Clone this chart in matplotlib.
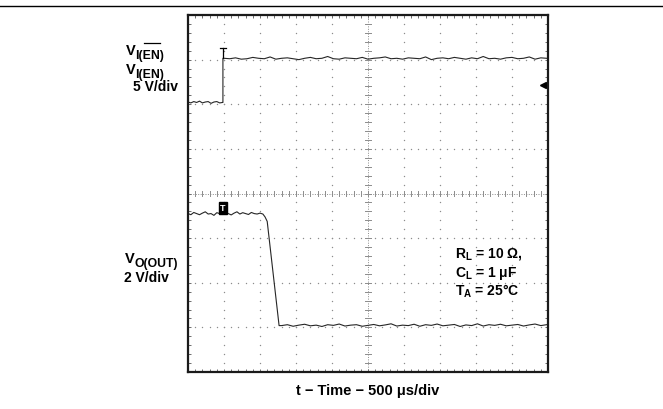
import matplotlib
matplotlib.use("Agg")
import matplotlib.pyplot as plt
import numpy as np
from matplotlib.lines import Line2D

plt.rcParams['font.family'] = ['Liberation Sans', 'DejaVu Sans']
plt.rcParams['font.weight'] = 'bold'
plt.rcParams['mathtext.fontset'] = 'custom'
plt.rcParams['mathtext.rm'] = 'Liberation Sans:bold'
plt.rcParams['mathtext.bf'] = 'Liberation Sans:bold'
plt.rcParams['mathtext.it'] = 'Liberation Sans:bold'

W, H = 663, 409

# scope settings
time_per_div = 500.0      # us/div
en_volts_per_div = 5.0    # V/div
out_volts_per_div = 2.0   # V/div
en_ground_div = 6.0       # screen division of 0 V for V_I(EN)
out_ground_div = 1.0      # screen division of 0 V for V_O(OUT)

# V_I(EN) trace, time in us from left edge of screen, values in V
en_low_t = np.arange(0, 481, 40)
en_low_v = [0.25, 0.15, 0.3, 0.2, 0.35, 0.15, 0.25, 0.3, 0.1, 0.25, 0.3, 0.15, 0.2]
en_step_t = [485, 485]
en_step_v = [0.2, 5.15]
en_high_t = np.arange(500, 5001, 80)
en_high_v = [5.15, 5.1, 5.2, 5.05, 5.1, 5.25, 5.15, 5.1, 5.3, 5.05,
             5.15, 5.2, 5.1, 5.0, 5.15, 5.25, 5.1, 5.15, 5.35, 5.1,
             5.05, 5.2, 5.15, 5.1, 5.25, 5.05, 5.15, 5.2, 5.3, 5.1,
             5.15, 5.05, 5.2, 5.15, 5.1, 5.3, 5.0, 5.15, 5.2, 5.1,
             5.25, 5.15, 5.05, 5.2, 5.1, 5.35, 5.1, 5.15, 5.05, 5.2,
             5.25, 5.1, 5.15, 5.3, 5.05, 5.2, 5.15]

# V_O(OUT) trace
out_high_t = np.arange(0, 1001, 40)
out_high_v = [5.1, 5.05, 5.15, 5.1, 5.05, 5.12, 5.18, 5.08, 5.1, 5.02, 5.14, 5.1,
              5.06, 5.16, 5.1, 5.04, 5.12, 5.18, 5.08, 5.14, 5.1, 5.06, 5.15, 5.1,
              5.08, 5.12]
out_fall_t = [1040, 1070, 1100, 1265]
out_fall_v = [5.08, 4.95, 4.75, 0.08]
out_low_t = np.arange(1300, 5001, 80)
out_low_v = [0.08, 0.12, 0.05, 0.1, 0.14, 0.07, 0.1, 0.04, 0.12, 0.09,
             0.15, 0.06, 0.1, 0.12, 0.05, 0.09, 0.13, 0.07, 0.11, 0.16,
             0.06, 0.1, 0.08, 0.14, 0.05, 0.12, 0.09, 0.15, 0.07, 0.1,
             0.13, 0.04, 0.11, 0.08, 0.16, 0.06, 0.12, 0.09, 0.14, 0.07,
             0.1, 0.13, 0.06, 0.11, 0.15, 0.08, 0.12]

trigger_t = 485
trigger_level_v = 2.2

fig = plt.figure(figsize=(W / 100, H / 100), dpi=100)
ax = fig.add_axes([188 / W, 1 - 372 / H, 360 / W, 357 / H])
ax.set_xlim(0, 10)
ax.set_ylim(0, 8)

# graticule dots
dot_col = '#8c8c8c'
for gx in [1, 2, 3, 4, 6, 7, 8, 9]:
    ys = np.arange(0, 8.01, 0.2)
    ax.plot(np.full_like(ys, gx), ys, ls='none', marker='o', ms=1.0, color=dot_col, mec='none')
for gy in [1, 2, 3, 5, 6, 7]:
    xs = np.arange(0, 10.01, 0.2)
    ax.plot(xs, np.full_like(xs, gy), ls='none', marker='o', ms=1.0, color=dot_col, mec='none')

# center cross with small ticks
ax.axvline(5, color=dot_col, lw=0.7, ls=(0, (1, 1.5)))
ax.axhline(4, color=dot_col, lw=0.7, ls=(0, (1, 1.5)))
for y in np.arange(0.2, 8, 0.2):
    ax.plot([4.93, 5.07], [y, y], color=dot_col, lw=0.7)
for x in np.arange(0.2, 10, 0.2):
    ax.plot([x, x], [3.94, 4.06], color=dot_col, lw=0.7)


def to_div(t, v, vpd, gnd):
    return np.asarray(t) / time_per_div, gnd + np.asarray(v) / vpd


trace_col = '#262626'
en_t = np.concatenate([en_low_t, en_step_t, en_high_t])
en_v = np.concatenate([en_low_v, en_step_v, en_high_v])
ax.plot(*to_div(en_t, en_v, en_volts_per_div, en_ground_div), color=trace_col, lw=0.8)

out_t = np.concatenate([out_high_t, out_fall_t, out_low_t])
out_v = np.concatenate([out_high_v, out_fall_v, out_low_v])
ax.plot(*to_div(out_t, out_v, out_volts_per_div, out_ground_div), color=trace_col, lw=0.8)

# trigger markers
tx = trigger_t / time_per_div
ax.plot([tx, tx], [7.03, 7.26], color='black', lw=0.9)
ax.plot([tx - 0.09, tx + 0.09], [7.26, 7.26], color='black', lw=0.9)
ax.text(tx, 3.67, 'T', color='white', fontsize=6.5, ha='center', va='center',
        bbox=dict(boxstyle='square,pad=0.15', fc='black', ec='black'))
ax.plot([9.87], [en_ground_div + trigger_level_v / en_volts_per_div], marker='<',
        ms=5, color='black', clip_on=False)

# frame
ax.set_xticks(np.arange(0, 11, 1))
ax.set_yticks(np.arange(0, 9, 1))
ax.set_xticks(np.arange(0, 10.01, 0.2), minor=True)
ax.set_yticks(np.arange(0, 8.01, 0.2), minor=True)
ax.tick_params(which='both', direction='in', length=2.5, width=0.6, color='#555555',
               top=True, right=True, labelbottom=False, labelleft=False)
for s in ax.spines.values():
    s.set_linewidth(1.6)
    s.set_color('#1a1a1a')

# rule at top of page
fig.add_artist(Line2D([0, 1], [1 - 6 / H, 1 - 6 / H], color='black', lw=1.0))

fs = 10
renderer = fig.canvas.get_renderer()


def ftext(x, y, s, size=fs, **kw):
    return fig.text(x / W, 1 - y / H, s, fontsize=size, fontweight='bold', va='baseline', **kw)


def text_width(s, size):
    t = ftext(0, 0, s, size=size)
    w = t.get_window_extent(renderer=renderer).width
    t.remove()
    return w


def label_with_sub(x, y, main, sub, bar=None):
    t = ftext(x, y, main, size=10.5)
    x1 = t.get_window_extent(renderer=renderer).x1 - 0.3
    ftext(x1, y + 4, sub, size=8.8)
    if bar:
        # overline over part of the subscript
        a = x1 + text_width(sub[:bar[0]], 8.8) + 0.5
        b = x1 + text_width(sub[:bar[1]], 8.8) - 0.5
        yb = 1 - (y - 12) / H
        fig.add_artist(Line2D([a / W, b / W], [yb, yb], color='black', lw=0.9))


label_with_sub(126, 55, 'V', 'I(EN)', bar=(2, 4))
label_with_sub(126, 74, 'V', 'I(EN)')
ftext(133, 91, '5 V/div')
label_with_sub(125, 263, 'V', 'O(OUT)')
ftext(124, 282, '2 V/div')
ftext(455, 258, r'R$_\mathbf{L}$ = 10 Ω,')
ftext(455, 277, r'C$_\mathbf{L}$ = 1 μF')
ftext(455, 296, r'T$_\mathbf{A}$ = 25°C')
ftext(368, 395, 't − Time − 500 μs/div', size=10.5, ha='center')

fig.savefig('out.png', dpi=100)
